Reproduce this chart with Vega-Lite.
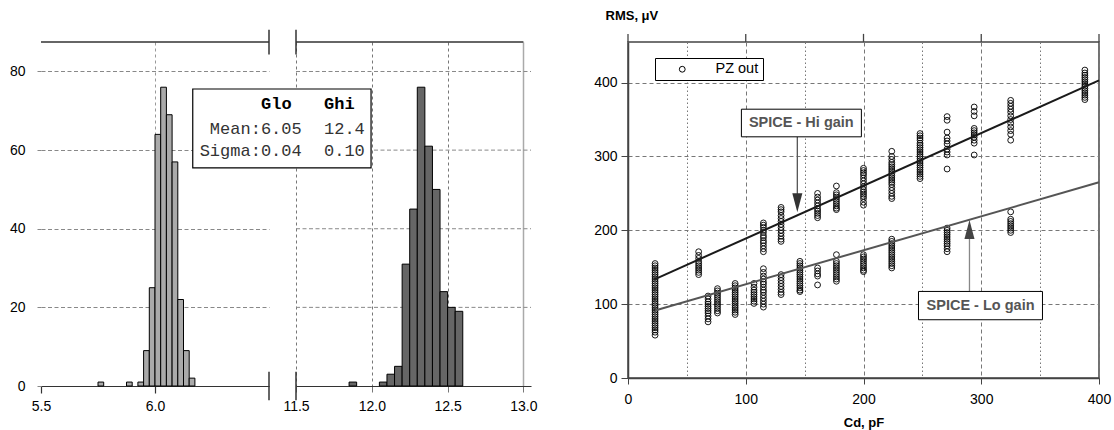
{
  "$schema": "https://vega.github.io/schema/vega-lite/v6.json",
  "padding": {"left": 9, "top": 8, "right": 0, "bottom": 0},
  "bounds": "flush",
  "spacing": 27,
  "resolve": {"scale": {"color": "independent"}, "legend": {"color": "independent"}},
  "config": {
    "font": "Liberation Sans",
    "view": {"stroke": null},
    "axis": {"labelFont": "Liberation Sans", "labelFontSize": 14, "labelColor": "#000", "domainColor": "#333", "tickColor": "#333", "gridColor": "#888", "titleFont": "Liberation Sans", "labelFlush": false, "labelOverlap": false}
  },
  "datasets": {
    "glo": [
      {"lo": 5.75, "hi": 5.775, "n": 1}, {"lo": 5.875, "hi": 5.9, "n": 1}, {"lo": 5.925, "hi": 5.95, "n": 1},
      {"lo": 5.95, "hi": 5.975, "n": 9}, {"lo": 5.975, "hi": 6.0, "n": 25}, {"lo": 6.0, "hi": 6.025, "n": 64},
      {"lo": 6.025, "hi": 6.05, "n": 76}, {"lo": 6.05, "hi": 6.075, "n": 69}, {"lo": 6.075, "hi": 6.1, "n": 57},
      {"lo": 6.1, "hi": 6.125, "n": 22}, {"lo": 6.125, "hi": 6.15, "n": 9}, {"lo": 6.15, "hi": 6.175, "n": 2}
    ],
    "ghi": [
      {"lo": 11.85, "hi": 11.9, "n": 1}, {"lo": 12.05, "hi": 12.1, "n": 1}, {"lo": 12.1, "hi": 12.15, "n": 3},
      {"lo": 12.15, "hi": 12.2, "n": 5}, {"lo": 12.2, "hi": 12.25, "n": 31}, {"lo": 12.25, "hi": 12.3, "n": 45},
      {"lo": 12.3, "hi": 12.35, "n": 76}, {"lo": 12.35, "hi": 12.4, "n": 61}, {"lo": 12.4, "hi": 12.45, "n": 50},
      {"lo": 12.45, "hi": 12.5, "n": 24}, {"lo": 12.5, "hi": 12.55, "n": 20}, {"lo": 12.55, "hi": 12.6, "n": 19}
    ],
    "hiline": [{"cd": 23, "rms": 134}, {"cd": 400, "rms": 403}],
    "loline": [{"cd": 23, "rms": 91.5}, {"cd": 400, "rms": 265}],
    "topticks": [{"t": 0}, {"t": 100}, {"t": 200}, {"t": 300}, {"t": 400}],
    "pz": [
      {"cd":23,"rms":155},{"cd":23,"rms":152},{"cd":23,"rms":149},{"cd":23,"rms":146},{"cd":23,"rms":143},{"cd":23,"rms":140},{"cd":23,"rms":137},{"cd":23,"rms":134},{"cd":23,"rms":131},{"cd":23,"rms":128},{"cd":23,"rms":125},{"cd":23,"rms":122},{"cd":23,"rms":119},{"cd":23,"rms":116},{"cd":23,"rms":113},{"cd":23,"rms":110},{"cd":23,"rms":107},{"cd":23,"rms":104},{"cd":23,"rms":101},{"cd":23,"rms":98},{"cd":23,"rms":95},{"cd":23,"rms":92},{"cd":23,"rms":89},{"cd":23,"rms":86},{"cd":23,"rms":83},{"cd":23,"rms":80},{"cd":23,"rms":77},{"cd":23,"rms":74},{"cd":23,"rms":71},{"cd":23,"rms":68},{"cd":23,"rms":65},{"cd":23,"rms":62},{"cd":23,"rms":58},
      {"cd":60,"rms":171},{"cd":60,"rms":166},{"cd":60,"rms":162},{"cd":60,"rms":158},{"cd":60,"rms":155},{"cd":60,"rms":152},{"cd":60,"rms":149},{"cd":60,"rms":146},{"cd":60,"rms":143},{"cd":60,"rms":140},
      {"cd":68,"rms":111},{"cd":68,"rms":107},{"cd":68,"rms":103},{"cd":68,"rms":100},{"cd":68,"rms":97},{"cd":68,"rms":94},{"cd":68,"rms":91},{"cd":68,"rms":88},{"cd":68,"rms":84},{"cd":68,"rms":80},{"cd":68,"rms":76},
      {"cd":76,"rms":121},{"cd":76,"rms":118},{"cd":76,"rms":115},{"cd":76,"rms":112},{"cd":76,"rms":109},{"cd":76,"rms":106},{"cd":76,"rms":103},{"cd":76,"rms":100},{"cd":76,"rms":97},{"cd":76,"rms":94},{"cd":76,"rms":91},{"cd":76,"rms":88},
      {"cd":91,"rms":128},{"cd":91,"rms":125},{"cd":91,"rms":122},{"cd":91,"rms":119},{"cd":91,"rms":116},{"cd":91,"rms":113},{"cd":91,"rms":110},{"cd":91,"rms":107},{"cd":91,"rms":104},{"cd":91,"rms":101},{"cd":91,"rms":98},{"cd":91,"rms":95},{"cd":91,"rms":92},{"cd":91,"rms":89},{"cd":91,"rms":86},
      {"cd":107,"rms":128},{"cd":107,"rms":123},{"cd":107,"rms":119},{"cd":107,"rms":116},{"cd":107,"rms":113},{"cd":107,"rms":110},{"cd":107,"rms":107},{"cd":107,"rms":104},{"cd":107,"rms":101},
      {"cd":115,"rms":210},{"cd":115,"rms":207},{"cd":115,"rms":204},{"cd":115,"rms":200},{"cd":115,"rms":197},{"cd":115,"rms":193},{"cd":115,"rms":190},{"cd":115,"rms":186},{"cd":115,"rms":183},{"cd":115,"rms":179},{"cd":115,"rms":175},{"cd":115,"rms":171},{"cd":115,"rms":148},{"cd":115,"rms":143},{"cd":115,"rms":138},{"cd":115,"rms":134},{"cd":115,"rms":130},{"cd":115,"rms":127},{"cd":115,"rms":123},{"cd":115,"rms":119},{"cd":115,"rms":116},{"cd":115,"rms":112},{"cd":115,"rms":108},{"cd":115,"rms":104},{"cd":115,"rms":100},{"cd":115,"rms":96},
      {"cd":130,"rms":231},{"cd":130,"rms":228},{"cd":130,"rms":225},{"cd":130,"rms":220},{"cd":130,"rms":216},{"cd":130,"rms":212},{"cd":130,"rms":208},{"cd":130,"rms":204},{"cd":130,"rms":200},{"cd":130,"rms":196},{"cd":130,"rms":192},{"cd":130,"rms":188},{"cd":130,"rms":185},{"cd":130,"rms":140},{"cd":130,"rms":136},{"cd":130,"rms":132},{"cd":130,"rms":128},{"cd":130,"rms":124},{"cd":130,"rms":120},{"cd":130,"rms":116},{"cd":130,"rms":113},
      {"cd":146,"rms":158},{"cd":146,"rms":155},{"cd":146,"rms":152},{"cd":146,"rms":149},{"cd":146,"rms":146},{"cd":146,"rms":143},{"cd":146,"rms":140},{"cd":146,"rms":137},{"cd":146,"rms":134},{"cd":146,"rms":131},{"cd":146,"rms":128},{"cd":146,"rms":125},{"cd":146,"rms":122},{"cd":146,"rms":119},{"cd":146,"rms":117},
      {"cd":161,"rms":250},{"cd":161,"rms":245},{"cd":161,"rms":241},{"cd":161,"rms":237},{"cd":161,"rms":233},{"cd":161,"rms":229},{"cd":161,"rms":226},{"cd":161,"rms":223},{"cd":161,"rms":220},{"cd":161,"rms":217},{"cd":161,"rms":149},{"cd":161,"rms":145},{"cd":161,"rms":141},{"cd":161,"rms":138},{"cd":161,"rms":126},
      {"cd":177,"rms":260},{"cd":177,"rms":251},{"cd":177,"rms":248},{"cd":177,"rms":245},{"cd":177,"rms":242},{"cd":177,"rms":239},{"cd":177,"rms":236},{"cd":177,"rms":233},{"cd":177,"rms":230},{"cd":177,"rms":228},{"cd":177,"rms":167},{"cd":177,"rms":158},{"cd":177,"rms":155},{"cd":177,"rms":152},{"cd":177,"rms":149},{"cd":177,"rms":146},{"cd":177,"rms":143},{"cd":177,"rms":140},{"cd":177,"rms":137},{"cd":177,"rms":134},{"cd":177,"rms":131},
      {"cd":200,"rms":284},{"cd":200,"rms":281},{"cd":200,"rms":278},{"cd":200,"rms":275},{"cd":200,"rms":271},{"cd":200,"rms":267},{"cd":200,"rms":263},{"cd":200,"rms":259},{"cd":200,"rms":255},{"cd":200,"rms":252},{"cd":200,"rms":249},{"cd":200,"rms":246},{"cd":200,"rms":243},{"cd":200,"rms":238},{"cd":200,"rms":234},{"cd":200,"rms":167},{"cd":200,"rms":164},{"cd":200,"rms":161},{"cd":200,"rms":158},{"cd":200,"rms":155},{"cd":200,"rms":152},{"cd":200,"rms":149},{"cd":200,"rms":146},{"cd":200,"rms":144},
      {"cd":224,"rms":307},{"cd":224,"rms":300},{"cd":224,"rms":296},{"cd":224,"rms":292},{"cd":224,"rms":289},{"cd":224,"rms":286},{"cd":224,"rms":283},{"cd":224,"rms":280},{"cd":224,"rms":277},{"cd":224,"rms":274},{"cd":224,"rms":271},{"cd":224,"rms":268},{"cd":224,"rms":265},{"cd":224,"rms":262},{"cd":224,"rms":258},{"cd":224,"rms":254},{"cd":224,"rms":250},{"cd":224,"rms":246},{"cd":224,"rms":243},{"cd":224,"rms":188},{"cd":224,"rms":185},{"cd":224,"rms":182},{"cd":224,"rms":179},{"cd":224,"rms":176},{"cd":224,"rms":173},{"cd":224,"rms":170},{"cd":224,"rms":167},{"cd":224,"rms":164},{"cd":224,"rms":161},{"cd":224,"rms":158},{"cd":224,"rms":155},{"cd":224,"rms":152},{"cd":224,"rms":149},
      {"cd":248,"rms":331},{"cd":248,"rms":328},{"cd":248,"rms":325},{"cd":248,"rms":322},{"cd":248,"rms":318},{"cd":248,"rms":315},{"cd":248,"rms":312},{"cd":248,"rms":309},{"cd":248,"rms":306},{"cd":248,"rms":303},{"cd":248,"rms":300},{"cd":248,"rms":297},{"cd":248,"rms":294},{"cd":248,"rms":291},{"cd":248,"rms":288},{"cd":248,"rms":285},{"cd":248,"rms":282},{"cd":248,"rms":279},{"cd":248,"rms":276},{"cd":248,"rms":273},{"cd":248,"rms":270},
      {"cd":271,"rms":354},{"cd":271,"rms":349},{"cd":271,"rms":333},{"cd":271,"rms":325},{"cd":271,"rms":321},{"cd":271,"rms":317},{"cd":271,"rms":310},{"cd":271,"rms":306},{"cd":271,"rms":302},{"cd":271,"rms":283},{"cd":271,"rms":203},{"cd":271,"rms":200},{"cd":271,"rms":197},{"cd":271,"rms":194},{"cd":271,"rms":191},{"cd":271,"rms":188},{"cd":271,"rms":185},{"cd":271,"rms":182},{"cd":271,"rms":179},{"cd":271,"rms":175},{"cd":271,"rms":171},
      {"cd":294,"rms":367},{"cd":294,"rms":361},{"cd":294,"rms":355},{"cd":294,"rms":338},{"cd":294,"rms":335},{"cd":294,"rms":332},{"cd":294,"rms":329},{"cd":294,"rms":326},{"cd":294,"rms":322},{"cd":294,"rms":318},{"cd":294,"rms":302},
      {"cd":325,"rms":376},{"cd":325,"rms":372},{"cd":325,"rms":368},{"cd":325,"rms":364},{"cd":325,"rms":360},{"cd":325,"rms":355},{"cd":325,"rms":350},{"cd":325,"rms":345},{"cd":325,"rms":340},{"cd":325,"rms":335},{"cd":325,"rms":330},{"cd":325,"rms":322},{"cd":325,"rms":225},{"cd":325,"rms":215},{"cd":325,"rms":212},{"cd":325,"rms":209},{"cd":325,"rms":206},{"cd":325,"rms":203},{"cd":325,"rms":200},{"cd":325,"rms":197},
      {"cd":388,"rms":417},{"cd":388,"rms":413},{"cd":388,"rms":410},{"cd":388,"rms":407},{"cd":388,"rms":404},{"cd":388,"rms":401},{"cd":388,"rms":398},{"cd":388,"rms":395},{"cd":388,"rms":392},{"cd":388,"rms":389},{"cd":388,"rms":386},{"cd":388,"rms":383},{"cd":388,"rms":380},{"cd":388,"rms":377}
    ]
  },
  "hconcat": [
    {
      "width": 228,
      "height": 344,
      "layer": [
        {
          "data": {"name": "glo"},
          "mark": {"type": "bar", "fill": "#aaaaaa", "stroke": "#000", "strokeWidth": 1},
          "encoding": {
            "x": {"field": "lo", "type": "quantitative", "scale": {"domain": [5.5, 6.5], "nice": false, "zero": false},
              "axis": {"title": null, "values": [5.5, 6.0], "format": ".1f", "grid": true, "gridDash": [3, 3], "gridColor": "#999",
                "gridOpacity": {"condition": {"test": "datum.value < 5.9", "value": 0}, "value": 1},
                "tickSize": 7, "tickWidth": 1.2, "domainWidth": 1.2, "labelPadding": 6}},
            "x2": {"field": "hi"},
            "y": {"field": "n", "type": "quantitative", "scale": {"domain": [0, 87.5], "nice": false},
              "axis": {"title": null, "values": [0, 20, 40, 60, 80], "format": "d", "domain": false, "grid": true, "gridDash": [4, 2.5], "gridColor": "#888",
                "tickSize": 6, "tickColor": "#888", "tickDash": [4, 2.5], "labelPadding": 10}},
            "y2": {"datum": 0}
          }
        },
        {
          "data": {"values": [{}]},
          "mark": {"type": "rule", "color": "#333", "strokeWidth": 1.5},
          "encoding": {
            "x": {"datum": 5.5, "type": "quantitative"}, "x2": {"datum": 6.5},
            "y": {"datum": 87.5, "type": "quantitative"}
          }
        },
        {
          "data": {"values": [{}]},
          "mark": {"type": "rule", "color": "#333", "strokeWidth": 1.5},
          "encoding": {
            "x": {"datum": 6.5, "type": "quantitative"},
            "y": {"datum": -3.6, "type": "quantitative"}, "y2": {"datum": 3.6}
          }
        },
        {
          "data": {"values": [{}]},
          "mark": {"type": "rule", "color": "#333", "strokeWidth": 1.5},
          "encoding": {
            "x": {"datum": 6.5, "type": "quantitative"},
            "y": {"datum": 84.3, "type": "quantitative"}, "y2": {"datum": 90.6}
          }
        }
      ]
    },
    {
      "width": 305,
      "height": 344,
      "layer": [
        {
          "data": {"values": [{"g": 20}, {"g": 40}, {"g": 60}, {"g": 80}]},
          "mark": {"type": "rule", "color": "#888", "strokeDash": [4, 2.5], "strokeWidth": 1},
          "encoding": {
            "y": {"field": "g", "type": "quantitative", "scale": {"domain": [0, 87.5], "nice": false}, "axis": null},
            "x": {"datum": 11.5, "type": "quantitative"}, "x2": {"datum": 13.05}
          }
        },
        {
          "data": {"name": "ghi"},
          "mark": {"type": "bar", "fill": "#666666", "stroke": "#000", "strokeWidth": 1},
          "encoding": {
            "x": {"field": "lo", "type": "quantitative", "scale": {"domain": [11.5, 13.05], "range": [0, 235], "nice": false, "zero": false},
              "axis": {"title": null, "values": [11.5, 12.0, 12.5, 13.0], "format": ".1f", "grid": true,
                "gridDash": {"condition": {"test": "datum.value > 12.9", "value": []}, "value": [3, 3]},
                "gridColor": {"condition": {"test": "datum.value > 12.9", "value": "#aaa"}, "value": "#777"},
                "gridWidth": {"condition": {"test": "datum.value > 12.9", "value": 1.5}, "value": 1},
                "tickSize": 6, "tickColor": "#777", "domainWidth": 1.2, "labelPadding": 7}},
            "x2": {"field": "hi"},
            "y": {"field": "n", "type": "quantitative", "axis": null},
            "y2": {"datum": 0}
          }
        },
        {
          "data": {"values": [{}]},
          "mark": {"type": "rule", "color": "#333", "strokeWidth": 1.5},
          "encoding": {
            "x": {"datum": 11.5, "type": "quantitative"}, "x2": {"datum": 13.0},
            "y": {"datum": 87.5, "type": "quantitative", "axis": null}
          }
        },
        {
          "data": {"values": [{}]},
          "mark": {"type": "rule", "color": "#333", "strokeWidth": 1.5},
          "encoding": {
            "x": {"datum": 11.5, "type": "quantitative"},
            "y": {"datum": -3.6, "type": "quantitative", "axis": null}, "y2": {"datum": 3.6}
          }
        },
        {
          "data": {"values": [{}]},
          "mark": {"type": "rule", "color": "#333", "strokeWidth": 1.5},
          "encoding": {
            "x": {"datum": 11.5, "type": "quantitative"},
            "y": {"datum": 84.3, "type": "quantitative", "axis": null}, "y2": {"datum": 90.6}
          }
        },
        {
          "data": {"values": [{}]},
          "mark": {"type": "rect", "fill": "#fff", "stroke": "#000", "strokeWidth": 1.2},
          "encoding": {
            "x": {"datum": 10.819, "type": "quantitative"}, "x2": {"datum": 11.995},
            "y": {"datum": 75.55, "type": "quantitative", "axis": null}, "y2": {"datum": 55.5}
          }
        },
        {
          "data": {"values": [{}]},
          "mark": {"type": "text", "text": "Glo", "font": "Liberation Mono", "fontSize": 17, "fontWeight": "bold", "align": "right", "baseline": "middle", "color": "#000"},
          "encoding": {"x": {"datum": 11.4716, "type": "quantitative"}, "y": {"datum": 71.7, "type": "quantitative", "axis": null}}
        },
        {
          "data": {"values": [{}]},
          "mark": {"type": "text", "text": "Ghi", "font": "Liberation Mono", "fontSize": 17, "fontWeight": "bold", "align": "left", "baseline": "middle", "color": "#000"},
          "encoding": {"x": {"datum": 11.6847, "type": "quantitative"}, "y": {"datum": 71.7, "type": "quantitative", "axis": null}}
        },
        {
          "data": {"values": [{}]},
          "mark": {"type": "text", "text": "Mean:6.05", "font": "Liberation Mono", "fontSize": 17, "align": "right", "baseline": "middle", "color": "#333"},
          "encoding": {"x": {"datum": 11.5376, "type": "quantitative"}, "y": {"datum": 65.3, "type": "quantitative", "axis": null}}
        },
        {
          "data": {"values": [{}]},
          "mark": {"type": "text", "text": "12.4", "font": "Liberation Mono", "fontSize": 17, "align": "left", "baseline": "middle", "color": "#333"},
          "encoding": {"x": {"datum": 11.6847, "type": "quantitative"}, "y": {"datum": 65.3, "type": "quantitative", "axis": null}}
        },
        {
          "data": {"values": [{}]},
          "mark": {"type": "text", "text": "Sigma:0.04", "font": "Liberation Mono", "fontSize": 17, "align": "right", "baseline": "middle", "color": "#333"},
          "encoding": {"x": {"datum": 11.5376, "type": "quantitative"}, "y": {"datum": 59.8, "type": "quantitative", "axis": null}}
        },
        {
          "data": {"values": [{}]},
          "mark": {"type": "text", "text": "0.10", "font": "Liberation Mono", "fontSize": 17, "align": "left", "baseline": "middle", "color": "#333"},
          "encoding": {"x": {"datum": 11.6847, "type": "quantitative"}, "y": {"datum": 59.8, "type": "quantitative", "axis": null}}
        }
      ]
    },
    {
      "width": 471,
      "height": 336,
      "view": {"stroke": "#444", "strokeWidth": 1.5},
      "layer": [
        {
          "data": {"name": "pz"},
          "mark": {"type": "point", "filled": false, "size": 34, "strokeWidth": 0.9, "opacity": 1},
          "encoding": {
            "x": {"field": "cd", "type": "quantitative", "scale": {"domain": [0, 400], "nice": false, "zero": false},
              "axis": {"title": "Cd, pF", "titleFontWeight": "bold", "titleFontSize": 13, "titlePadding": 10,
                "values": [0, 50, 100, 150, 200, 250, 300, 350, 400],
                "labelExpr": "datum.value % 100 === 0 ? datum.label : ''",
                "grid": true, "gridColor": "#777",
                "gridDash": {"condition": {"test": "datum.value % 100 === 0", "value": [4, 3]}, "value": [1.5, 2.5]},
                "tickSize": 6, "tickColor": "#444",
                "tickOpacity": {"condition": {"test": "datum.value % 100 === 0", "value": 1}, "value": 0},
                "domainColor": "#444", "domainWidth": 1.5, "labelPadding": 8}},
            "y": {"field": "rms", "type": "quantitative", "scale": {"domain": [0, 455], "nice": false},
              "axis": {"title": "RMS, μV", "titleAngle": 0, "titleX": -23, "titleY": -27, "titleAlign": "left", "titleBaseline": "middle",
                "titleFontWeight": "bold", "titleFontSize": 13,
                "values": [0, 50, 100, 150, 200, 250, 300, 350, 400, 450],
                "labelExpr": "datum.value % 100 === 0 ? datum.label : ''",
                "grid": true, "gridColor": "#777",
                "gridDash": {"condition": {"test": "datum.value % 100 === 0", "value": [4, 3]}, "value": [1.5, 2.5]},
                "tickSize": 7, "tickColor": "#444",
                "tickOpacity": {"condition": {"test": "datum.value % 100 === 0", "value": 1}, "value": 0},
                "domainColor": "#444", "domainWidth": 1.5, "labelPadding": 4}},
            "color": {"datum": "PZ out", "type": "nominal", "scale": {"range": ["#000"]},
              "legend": {"title": null, "orient": "none", "legendX": 27, "legendY": 16, "strokeColor": "#000", "fillColor": "#fff",
                "padding": 4, "symbolOffset": 16, "labelOffset": 26, "labelFontSize": 14.5, "labelFont": "Liberation Sans",
                "symbolSize": 34, "symbolStrokeWidth": 1, "symbolType": "circle", "labelColor": "#000"}}
          }
        },
        {
          "data": {"name": "topticks"},
          "mark": {"type": "rule", "color": "#444", "strokeWidth": 1.3},
          "encoding": {
            "x": {"field": "t", "type": "quantitative"},
            "y": {"datum": 455, "type": "quantitative"}, "y2": {"datum": 466}
          }
        },
        {
          "data": {"name": "hiline"},
          "mark": {"type": "line", "color": "#1a1a1a", "strokeWidth": 2},
          "encoding": {
            "x": {"field": "cd", "type": "quantitative"},
            "y": {"field": "rms", "type": "quantitative"}
          }
        },
        {
          "data": {"name": "loline"},
          "mark": {"type": "line", "color": "#555", "strokeWidth": 2},
          "encoding": {
            "x": {"field": "cd", "type": "quantitative"},
            "y": {"field": "rms", "type": "quantitative"}
          }
        },
        {
          "data": {"values": [{}]},
          "mark": {"type": "rule", "color": "#555", "strokeWidth": 1.3},
          "encoding": {"x": {"datum": 143.8, "type": "quantitative"}, "y": {"datum": 326.6, "type": "quantitative"}, "y2": {"datum": 240}}
        },
        {
          "data": {"values": [{}]},
          "mark": {"type": "point", "shape": "M-0.53,-1L0.53,-1L0,1Z", "size": 361, "filled": true, "color": "#333", "opacity": 1},
          "encoding": {"x": {"datum": 143.8, "type": "quantitative"}, "y": {"datum": 237.2, "type": "quantitative"}}
        },
        {
          "data": {"values": [{}]},
          "mark": {"type": "rect", "fill": "#fff", "stroke": "#000", "strokeWidth": 1},
          "encoding": {"x": {"datum": 96.3, "type": "quantitative"}, "x2": {"datum": 198.2}, "y": {"datum": 364, "type": "quantitative"}, "y2": {"datum": 326.6}}
        },
        {
          "data": {"values": [{}]},
          "mark": {"type": "text", "text": "SPICE - Hi gain", "fontSize": 14.5, "fontWeight": "bold", "color": "#555", "align": "center", "baseline": "middle"},
          "encoding": {"x": {"datum": 147.2, "type": "quantitative"}, "y": {"datum": 345.3, "type": "quantitative"}}
        },
        {
          "data": {"values": [{}]},
          "mark": {"type": "rule", "color": "#888", "strokeWidth": 1.3},
          "encoding": {"x": {"datum": 290, "type": "quantitative"}, "y": {"datum": 117.2, "type": "quantitative"}, "y2": {"datum": 198}}
        },
        {
          "data": {"values": [{}]},
          "mark": {"type": "point", "shape": "M-0.53,1L0.53,1L0,-1Z", "size": 361, "filled": true, "color": "#444", "opacity": 1},
          "encoding": {"x": {"datum": 290, "type": "quantitative"}, "y": {"datum": 201.2, "type": "quantitative"}}
        },
        {
          "data": {"values": [{}]},
          "mark": {"type": "rect", "fill": "#fff", "stroke": "#000", "strokeWidth": 1},
          "encoding": {"x": {"datum": 246.7, "type": "quantitative"}, "x2": {"datum": 352}, "y": {"datum": 117.2, "type": "quantitative"}, "y2": {"datum": 78.9}}
        },
        {
          "data": {"values": [{}]},
          "mark": {"type": "text", "text": "SPICE - Lo gain", "fontSize": 14.5, "fontWeight": "bold", "color": "#555", "align": "center", "baseline": "middle"},
          "encoding": {"x": {"datum": 299.4, "type": "quantitative"}, "y": {"datum": 98, "type": "quantitative"}}
        }
      ]
    }
  ]
}
